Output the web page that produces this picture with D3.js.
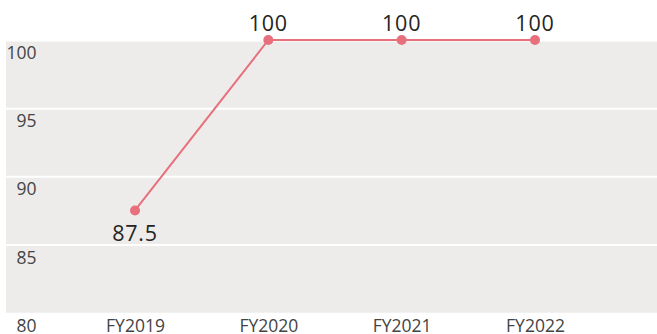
<!DOCTYPE html>
<html><head><meta charset="utf-8">
<script src="https://cdn.jsdelivr.net/npm/d3@7"></script>
<style>body{margin:0;background:#fff}svg{display:block}</style>
</head><body>
<svg id="c" width="657" height="334"></svg>
<script>
const categories = ["FY2019","FY2020","FY2021","FY2022"];
const values = [87.5,100,100,100];
const valueLabels = ["87.5","100","100","100"];
const yTicks = [80,85,90,95,100];

const svg = d3.select("#c");
const font = "'Open Sans', 'Noto Sans', sans-serif";
const plot = {left:6, right:657, top:40, bottom:312.7};
const x = d3.scalePoint().domain(categories).range([135,535]);
const y = d3.scaleLinear().domain([80,100]).range([plot.bottom, plot.top]);

svg.append("rect").attr("x",plot.left).attr("y",plot.top)
  .attr("width",plot.right-plot.left).attr("height",plot.bottom-plot.top)
  .attr("fill","#edeceb");

const yAxis = d3.axisLeft(y).tickValues(yTicks).tickSize(-(plot.right-plot.left)).tickFormat(d3.format("d"));
const ya = svg.append("g").attr("transform",`translate(${plot.left},0)`).call(yAxis);
ya.select(".domain").remove();
ya.selectAll(".tick line").attr("stroke","#fff").attr("stroke-width",2)
  .style("display", d => (d===80) ? "none" : null);
ya.selectAll(".tick text").attr("x",30.5).attr("dy",null).attr("y",18.5)
  .attr("text-anchor","end").attr("fill","#444").style("font-family",font).style("font-size","17.5px");

const xAxis = d3.axisBottom(x).tickSize(0);
const xa = svg.append("g").attr("transform",`translate(0,${plot.bottom})`).call(xAxis);
xa.select(".domain").remove();
xa.selectAll(".tick text").attr("dy",null).attr("y",19.5).attr("fill","#444")
  .style("font-family",font).style("font-size","17.5px");

const data = categories.map((c,i)=>({c, v:values[i], l:valueLabels[i]}));
const line = d3.line().x(d=>x(d.c)).y(d=>y(d.v));
svg.append("path").datum(data).attr("d",line).attr("fill","none")
  .attr("stroke","#e8707c").attr("stroke-width",2);
svg.selectAll("circle.pt").data(data).join("circle").attr("class","pt")
  .attr("cx",d=>x(d.c)).attr("cy",d=>y(d.v)).attr("r",5).attr("fill","#e8707c");
svg.selectAll("text.lbl").data(data).join("text").attr("class","lbl")
  .attr("x",d=>x(d.c)).attr("y",(d,i)=> i===0 ? y(d.v)+30.5 : y(d.v)-9.5)
  .attr("text-anchor","middle").attr("fill","#252423")
  .style("letter-spacing","0.8px")
  .style("font-family",font).style("font-size","21.5px").style("font-weight","500").text(d=>d.l);
</script>
</body></html>
